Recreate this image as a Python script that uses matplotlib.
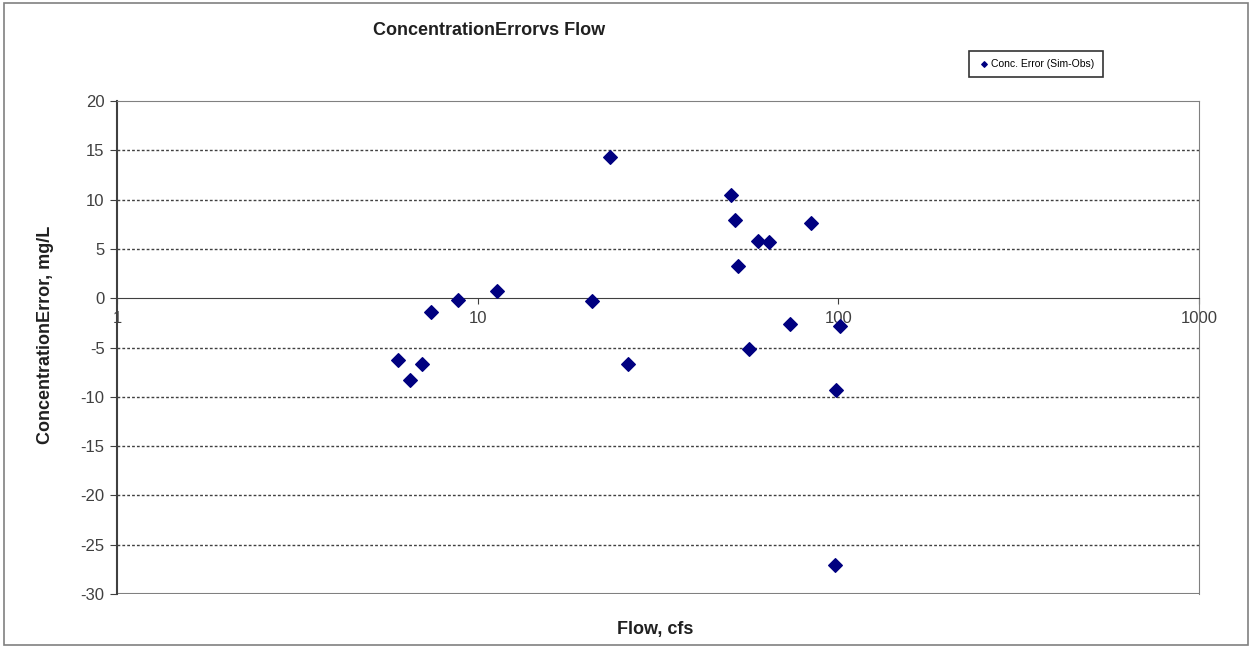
import matplotlib.pyplot as plt
import matplotlib.patches as mpatches
from matplotlib.ticker import FixedLocator, NullLocator, FixedFormatter

plt.rcParams['font.family'] = ['Liberation Sans', 'DejaVu Sans']
plt.rcParams['axes.unicode_minus'] = False

# flow (cfs) and concentration error (mg/L), simulated minus observed
flow = [6.0, 6.5, 7.0, 7.4, 8.8, 11.3, 20.7, 23.3, 26.1, 50.4, 51.7, 52.7,
        56.5, 59.8, 64.3, 73.5, 84.0, 101.0, 98.5, 98.0]
conc_error = [-6.3, -8.3, -6.7, -1.4, -0.2, 0.7, -0.3, 14.3, -6.7, 10.5, 7.9, 3.3,
              -5.2, 5.8, 5.7, -2.6, 7.6, -2.8, -9.3, -27.1]

x_ticks = [1, 10, 100, 1000]
x_tick_labels = ['1', '10', '100', '1000']
y_ticks = [-30, -25, -20, -15, -10, -5, 0, 5, 10, 15, 20]

fig = plt.figure(figsize=(12.52, 6.48), dpi=100)
fig.patches.append(mpatches.Rectangle((0.003, 0.005), 0.994, 0.99, transform=fig.transFigure,
                                      fill=False, edgecolor='#808080', linewidth=1.2))
ax = fig.add_axes([0.0935, 0.0833, 0.8642, 0.7608])

ax.scatter(flow, conc_error, marker='D', s=48, color='#000080', zorder=3,
           label='Conc. Error (Sim-Obs)')

ax.set_xscale('log')
ax.set_xlim(1, 1000)
ax.set_ylim(-30, 20)

# category axis crosses at zero, like the spreadsheet default
ax.spines['bottom'].set_position(('data', 0))
ax.spines['bottom'].set_color('#404040')
ax.spines['left'].set_color('#404040')
ax.spines['left'].set_linewidth(1.5)
for side in ['top', 'right']:
    ax.spines[side].set_color('#808080')
ax.axhline(-30, color='#808080', linewidth=1.5, zorder=2)

ax.xaxis.set_major_locator(FixedLocator(x_ticks))
ax.xaxis.set_major_formatter(FixedFormatter(x_tick_labels))
ax.xaxis.set_minor_locator(NullLocator())
ax.yaxis.set_major_locator(FixedLocator(y_ticks))
ax.tick_params(axis='x', direction='out', length=4, pad=5, labelsize=12, colors='#404040')
ax.tick_params(axis='y', direction='out', length=5, pad=4, labelsize=12, colors='#404040')

for y in y_ticks:
    if y not in (0, 20, -30):
        ax.axhline(y, color='#404040', linewidth=1.0, linestyle=(0, (2, 1.5)), zorder=1)

ax.set_xlabel('Flow, cfs', fontsize=13, fontweight='bold', color='#202020')
ax.xaxis.set_label_coords(0.497, -0.055)
ax.set_ylabel('ConcentrationError, mg/L', fontsize=13, fontweight='bold', color='#202020')
ax.yaxis.set_label_coords(-0.058, 0.525)
fig.text(0.391, 0.953, 'ConcentrationErrorvs Flow', fontsize=13, fontweight='bold',
         color='#202020', ha='center', va='center')

leg = ax.legend(loc='center', bbox_to_anchor=(0.8275, 0.901), bbox_transform=fig.transFigure,
                fontsize=7.5, frameon=True, fancybox=False, edgecolor='black',
                handletextpad=0.1, markerscale=0.4, borderpad=0.8, handlelength=1.2)
leg.get_frame().set_linewidth(1.2)

fig.savefig('out.png', dpi=100)
